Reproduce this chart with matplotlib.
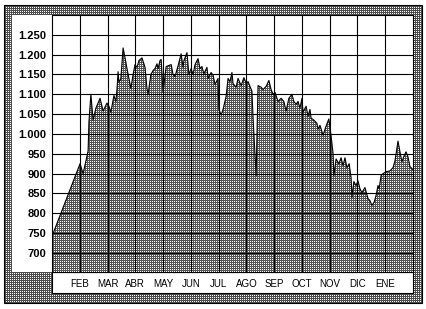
import numpy as np
import matplotlib
matplotlib.use("Agg")
from matplotlib import pyplot as plt
from matplotlib import transforms
from matplotlib.patches import Rectangle

plt.rcParams["font.family"] = ["Liberation Sans", "DejaVu Sans"]

# posicion en meses desde el inicio (0 = enero, 13 = febrero siguiente)
mes = [0.00, 1.01, 1.12, 1.30, 1.33, 1.40, 1.48, 1.58, 1.73, 1.84,
       1.98, 2.05, 2.12, 2.23, 2.30, 2.34, 2.38, 2.41, 2.48, 2.56,
       2.63, 2.70, 2.77, 2.84, 2.92, 2.99, 3.06, 3.13, 3.24, 3.35,
       3.42, 3.46, 3.56, 3.64, 3.71, 3.78, 3.82, 3.89, 3.93, 4.00,
       4.11, 4.18, 4.29, 4.36, 4.43, 4.54, 4.65, 4.72, 4.75, 4.86,
       4.93, 5.01, 5.08, 5.15, 5.26, 5.33, 5.40, 5.47, 5.58, 5.62,
       5.73, 5.80, 5.87, 5.98, 6.01, 6.09, 6.16, 6.27, 6.34, 6.41,
       6.48, 6.52, 6.63, 6.70, 6.81, 6.91, 6.99, 7.06, 7.13, 7.20,
       7.24, 7.35, 7.42, 7.53, 7.60, 7.71, 7.81, 7.89, 7.96, 8.03,
       8.14, 8.25, 8.35, 8.43, 8.53, 8.64, 8.71, 8.79, 8.86, 8.93,
       9.00, 9.04, 9.15, 9.22, 9.29, 9.33, 9.43, 9.54, 9.58, 9.65,
       9.76, 9.87, 9.97, 10.05, 10.12, 10.15, 10.23, 10.33, 10.41, 10.48,
       10.55, 10.62, 10.70, 10.77, 10.80, 10.87, 10.95, 11.02, 11.09, 11.16,
       11.27, 11.38, 11.45, 11.52, 11.60, 11.67, 11.74, 11.78, 11.85, 11.92,
       12.03, 12.17, 12.28, 12.35, 12.42, 12.46, 12.53, 12.60, 12.68, 12.75,
       12.82, 12.89, 13.00]

precio = [742, 925, 900, 957, 1030, 1100, 1035, 1065, 1090, 1058,
          1078, 1070, 1055, 1097, 1082, 1112, 1157, 1130, 1140, 1217,
          1192, 1165, 1140, 1115, 1150, 1175, 1168, 1185, 1192, 1168,
          1115, 1100, 1150, 1160, 1165, 1177, 1165, 1185, 1188, 1105,
          1170, 1172, 1175, 1150, 1145, 1172, 1202, 1168, 1185, 1205,
          1150, 1165, 1150, 1175, 1190, 1165, 1170, 1152, 1168, 1140,
          1155, 1148, 1125, 1140, 1062, 1048, 1062, 1095, 1140, 1132,
          1155, 1127, 1118, 1140, 1122, 1142, 1128, 1132, 1120, 1108,
          1040, 895, 1122, 1118, 1112, 1120, 1135, 1112, 1100, 1105,
          1082, 1090, 1082, 1058, 1090, 1100, 1082, 1075, 1082, 1065,
          1090, 1055, 1070, 1045, 1062, 1040, 1035, 1027, 1012, 1022,
          997, 1020, 1038, 995, 952, 895, 937, 925, 940, 920,
          940, 915, 925, 890, 840, 880, 870, 882, 862, 852,
          865, 837, 832, 820, 828, 845, 870, 862, 895, 900,
          905, 907, 915, 932, 965, 982, 955, 930, 945, 955,
          942, 918, 910]

meses = ["FEB", "MAR", "ABR", "MAY", "JUN", "JUL", "AGO",
         "SEP", "OCT", "NOV", "DIC", "ENE"]
niveles = [700, 750, 800, 850, 900, 950, 1000, 1050,
           1100, 1150, 1200, 1250]

W, H = 426, 309
y0, y1 = 652, 1300


def trama(h, w, oscuro=0.33):
    a = np.full((h, w, 3), oscuro)
    a[::2, ::2] = 1.0
    return a


fig = plt.figure(figsize=(W / 100, H / 100), dpi=100)
fig.patch.set_facecolor("white")

# marco gris punteado
fondo = np.ones((H, W, 3))
fondo[5:303, 4:422] = trama(298, 418, 0.3)
fondo[15:272, 12:52] = 1.0
fondo[272:293, 52:413] = 1.0
fig.figimage(fondo, xo=0, yo=0, origin="upper", zorder=0)

fig.patches.append(Rectangle((4 / W, 1 - 303 / H), 418 / W, 298 / H,
                             transform=fig.transFigure, fill=False,
                             edgecolor="black", lw=0.8, zorder=1))
fig.patches.append(Rectangle((52 / W, 1 - 293 / H), 361 / W, 21 / H,
                             transform=fig.transFigure, fill=False,
                             edgecolor="black", lw=0.8, zorder=1))

ax = fig.add_axes([52 / W, 1 - 272 / H, 361 / W, 257 / H], zorder=2)
ax.set_facecolor("white")

area = ax.fill_between(mes, precio, y0, facecolor="none", edgecolor="none")
img = ax.imshow(trama(257, 361), extent=(0, 13, y0, y1), aspect="auto",
                interpolation="nearest", zorder=1)
img.set_clip_path(area.get_paths()[0], transform=ax.transData)
ax.plot(mes, precio, color="black", lw=0.8, zorder=3)

ax.set_xlim(0, 13)
ax.set_ylim(y0, y1)

ax.set_xticks(range(1, 13))
ax.set_xticklabels([])
ax.set_yticks(niveles)
ax.set_yticklabels([f"{v:,}".replace(",", ".") for v in niveles],
                   fontweight="bold", fontsize=8)
ax.tick_params(length=0, pad=4.3)
ax.grid(True, color="black", lw=0.8)
ax.set_axisbelow(False)
for s in ax.spines.values():
    s.set_linewidth(0.8)

tr = transforms.blended_transform_factory(ax.transData, ax.transAxes)
for k, m in enumerate(meses):
    ax.text(k + 1, -15 / 257, m, transform=tr, ha="center", va="baseline",
            fontsize=7, clip_on=False)

fig.savefig("out.png", dpi=100)
